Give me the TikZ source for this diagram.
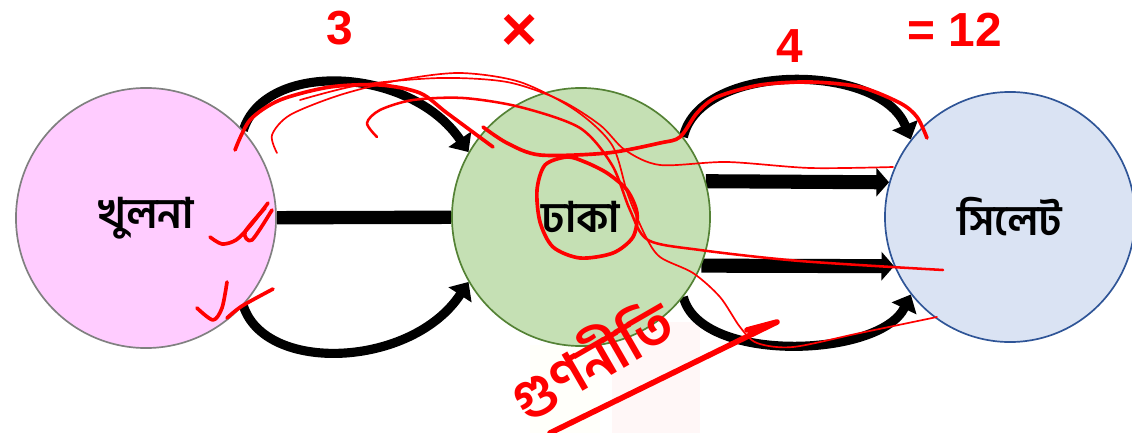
\documentclass[tikz,border=0pt]{standalone}
\usepackage{fontspec}
\setmainfont{Liberation Sans}
\newfontfamily\bn[Script=Bengali]{Hind Siliguri}
\usetikzlibrary{arrows.meta,backgrounds}
\definecolor{khulnafill}{HTML}{FFCCFF}
\definecolor{khulnaline}{HTML}{808080}
\definecolor{dhakafill}{HTML}{C5E0B4}
\definecolor{dhakaline}{HTML}{548235}
\definecolor{sylhetfill}{HTML}{DAE3F3}
\definecolor{sylhetline}{HTML}{2F5597}
\definecolor{redink}{HTML}{FF0000}
\begin{document}
\begin{tikzpicture}[
  x=0.025cm, y=-0.025cm,
  city/.style={circle, draw, line width=1.2pt, inner sep=0pt,
    font=\bn\bfseries\fontsize{30}{36}\selectfont},
  route/.style={line width=6.5pt, -{Triangle[length=11pt,width=19pt]}},
  road/.style={line width=10pt, -{Triangle[length=9pt,width=20pt]}},
  ink/.style={draw=redink, line width=2.6pt, line cap=round, line join=round},
  inkthin/.style={draw=redink, line width=1.2pt, line cap=round, line join=round},
  note/.style={text=redink, inner sep=0pt, font=\bfseries\fontsize{34}{40}\selectfont}
]
\useasboundingbox (0,0) rectangle (1132,433);

\node[city, fill=khulnafill, draw=khulnaline, minimum size=6.5cm] (k) at (146,218) {খুলনা};
\node[city, fill=dhakafill, draw=dhakaline, minimum size=6.45cm] (d) at (581,217) {ঢাকা};
\node[city, fill=sylhetfill, draw=sylhetline, minimum size=6.25cm] (s) at (1010,217) {সিলেট};

\begin{scope}[on background layer]
  \fill[red!3] (612,322) rectangle (700,433);
  \fill[green!2!yellow!2] (530,345) rectangle (600,433);
  % three roads khulna -> dhaka
  \draw[route] (k.42) .. controls (265,60) and (410,66) .. (d.150);
  \draw[line width=9.5pt] (k) -- (d);
  \draw[route] (k.-42) .. controls (265,374) and (412,368) .. (d.-150);
  % four roads dhaka -> sylhet
  \draw[route] (d.38) .. controls (700,62) and (880,62) .. (s.142);
  \draw[road] (d.16) -- (s.164);
  \draw[road] (d.-22) -- (s.-157);
  \draw[route] (d.-38) .. controls (700,364) and (880,358) .. (s.-142);
\end{scope}

% teacher's marks
\node[note] (n3) at (340,28) {3};
\node[note, font=\bfseries\fontsize{44}{48}\selectfont] (nx) at (520,32) {×};
\node[note] (n4) at (790,46) {4};
\node[note] (n12) at (955,30) {= 12};
\node[text=redink, rotate=30, inner sep=0pt, font=\bn\bfseries\fontsize{40}{44}\selectfont] (rule) at (590,357) {গুণনীতি};

\draw[ink] plot[smooth] coordinates {(235,150) (250,120) (280,100) (330,87) (380,85) (420,93) (447,113) (493,147)};
\draw[inkthin] plot[smooth] coordinates {(277,153) (272,135) (290,115) (340,95) (400,80) (460,73) (520,82) (575,110) (612,145) (628,195) (645,235) (660,257) (693,273) (720,297) (740,327) (757,343) (793,347) (860,333) (937,317)};
\draw[ink, line width=1.8pt] plot[smooth] coordinates {(377,137) (367,123) (380,110) (413,100) (463,98) (520,107) (580,128) (612,165) (630,210) (648,240) (700,250) (800,261) (943,270)};
\draw[inkthin] plot[smooth] coordinates {(300,100) (360,85) (440,78) (507,82) (560,100) (600,125) (625,150) (660,165) (727,162) (810,168) (893,167)};
\draw[ink] plot[smooth] coordinates {(483,127) (507,143) (540,155) (607,153) (660,143) (680,137) (697,113) (717,97) (760,85) (810,82) (860,87) (900,103) (917,117) (927,138)};
\draw[ink] plot[smooth cycle] coordinates {(567,157) (545,165) (537,190) (540,222) (553,247) (580,258) (613,253) (633,237) (637,213) (627,190) (607,173) (585,162)};
\draw[ink] plot[smooth] coordinates {(210,237) (222,244) (236,240) (250,226) (268,203)};
\draw[ink] plot[smooth] coordinates {(265,208) (245,232) (252,240) (272,210)};
\draw[ink] plot[smooth] coordinates {(197,308) (213,320) (222,308) (227,282)};
\draw[ink] plot[smooth] coordinates {(227,318) (242,306) (273,289)};
\draw[ink, line width=4pt] (550,433) -- (777,322) (747,330) -- (777,322);
\end{tikzpicture}
\end{document}
